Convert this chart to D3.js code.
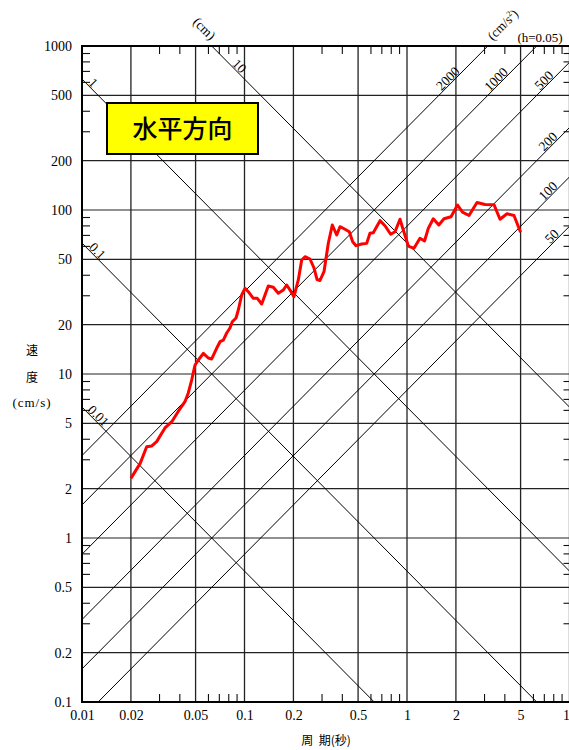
<!DOCTYPE html>
<html>
<head>
<meta charset="utf-8">
<script src="https://cdn.jsdelivr.net/npm/d3@7"></script>
<style>
  html, body { margin: 0; padding: 0; background: #fff; }
  svg { display: block; }
</style>
</head>
<body>
<svg id="chart" width="569" height="750"></svg>
<script>
// ---------------- data ----------------
const periods = [
  0.020, 0.0228, 0.025, 0.0269, 0.0288, 0.0324, 0.0357, 0.039, 0.043, 0.0451,
  0.0473, 0.0496, 0.052, 0.0558, 0.0599, 0.0628, 0.0675, 0.0707, 0.0741, 0.0777,
  0.0814, 0.0841, 0.0887, 0.0916, 0.0961, 0.1007, 0.1055, 0.1133, 0.1199, 0.1276,
  0.1337, 0.1401, 0.1504, 0.1614, 0.1733, 0.1818, 0.1905, 0.2016, 0.2143, 0.2249,
  0.2357, 0.253, 0.2677, 0.2794, 0.2915, 0.3084, 0.3279, 0.347, 0.3693, 0.387,
  0.4155, 0.4415, 0.4632, 0.4855, 0.5263, 0.5649, 0.5918, 0.6202, 0.6822, 0.7321,
  0.7936, 0.8437, 0.9055, 0.9489, 1.019, 1.104, 1.202, 1.282, 1.352, 1.451,
  1.569, 1.689, 1.866, 2.046, 2.195, 2.407, 2.696, 3.02, 3.431, 3.736,
  4.125, 4.554, 5.0
];
const velocities = [
  2.31, 2.85, 3.60, 3.64, 3.87, 4.69, 5.12, 5.89, 6.78, 7.66,
  9.19, 11.35, 12.17, 13.37, 12.52, 12.35, 14.40, 15.74, 16.11, 17.78,
  19.08, 20.84, 21.96, 24.55, 30.32, 33.31, 31.76, 28.94, 28.94, 26.72,
  30.32, 34.40, 33.79, 31.05, 32.53, 34.89, 32.53, 29.60, 37.43, 49.55,
  51.90, 50.26, 44.29, 37.70, 37.16, 42.06, 62.66, 81.0, 70.4, 79.1,
  76.3, 73.7, 64.1, 60.6, 62.0, 62.6, 72.1, 72.7, 86.1, 80.2,
  71.1, 73.7, 87.8, 75.5, 60.3, 58.4, 67.2, 64.7, 77.3, 88.4,
  81.0, 88.4, 91.0, 107.3, 97.0, 92.6, 111.1, 108.0, 107.8, 87.8,
  94.9, 92.6, 73.2
];
const xTickValues = [0.01, 0.02, 0.05, 0.1, 0.2, 0.5, 1, 2, 5, 10];
const xTickLabels = ["0.01", "0.02", "0.05", "0.1", "0.2", "0.5", "1", "2", "5", "10"];
const yTickValues = [0.1, 0.2, 0.5, 1, 2, 5, 10, 20, 50, 100, 200, 500, 1000];
const yTickLabels = ["0.1", "0.2", "0.5", "1", "2", "5", "10", "20", "50", "100", "200", "500", "1000"];
const minorFactors = [3, 4, 6, 7, 8, 9];
const displacementLevels = [0.01, 0.1, 1, 10];          // cm
const displacementLabels = ["0.01", "0.1", "1", "10"];
const displacementLabelPeriods = [0.01194, 0.01177, 0.01112, 0.0881];
const accelerationLevels = [2000, 1000, 500, 200, 100, 50]; // cm/s^2
const accelerationLabels = ["2000", "1000", "500", "200", "100", "50"];
const accelerationLabelPeriods = [1.883, 3.73, 7.35, 7.78, 7.78, 8.22];
const titleText = "水平方向";

// ---------------- layout ----------------
const svg = d3.select("#chart");
const L = 82, R = 569.5, T = 46, B = 702;
const x = d3.scaleLog().domain([0.01, 10]).range([L, R]);
const y = d3.scaleLog().domain([0.1, 1000]).range([B, T]);
const serif = "'Liberation Serif', 'Times New Roman', serif";
const cjk = "'Noto Sans CJK JP', 'Noto Sans CJK SC', sans-serif";
const TWO_PI = 2 * Math.PI;

svg.append("defs").append("clipPath").attr("id", "plotclip")
  .append("rect").attr("x", L).attr("y", T).attr("width", R - L).attr("height", B - T);

const plot = svg.append("g").attr("clip-path", "url(#plotclip)");

// grid
plot.append("g").selectAll("line").data(xTickValues).join("line")
  .attr("x1", d => x(d)).attr("x2", d => x(d)).attr("y1", T).attr("y2", B)
  .attr("stroke", "#222").attr("stroke-width", 1.3);
plot.append("g").selectAll("line").data(yTickValues).join("line")
  .attr("y1", d => y(d)).attr("y2", d => y(d)).attr("x1", L).attr("x2", R)
  .attr("stroke", "#222").attr("stroke-width", 1.2);

// minor ticks
const xMinor = [];
[0.01, 0.1, 1].forEach(dec => minorFactors.forEach(f => xMinor.push(dec * f)));
const yMinor = [];
[0.1, 1, 10, 100].forEach(dec => minorFactors.forEach(f => yMinor.push(dec * f)));
const ticksG = svg.append("g").attr("stroke", "#111").attr("stroke-width", 1.1);
ticksG.selectAll(".bt").data(xMinor).join("line")
  .attr("x1", d => x(d)).attr("x2", d => x(d)).attr("y1", B).attr("y2", B - 8);
ticksG.selectAll(".tt").data(xMinor).join("line").attr("class", "tt")
  .attr("x1", d => x(d)).attr("x2", d => x(d)).attr("y1", T).attr("y2", T + 8);
ticksG.selectAll(".lt").data(yMinor).join("line").attr("class", "lt")
  .attr("y1", d => y(d)).attr("y2", d => y(d)).attr("x1", L).attr("x2", L + 8);
ticksG.selectAll(".rt").data(yMinor).join("line").attr("class", "rt")
  .attr("y1", d => y(d)).attr("y2", d => y(d)).attr("x1", R).attr("x2", R - 6);

// diagonal lines: displacement (V = 2πD/T), acceleration (V = A·T/2π)
const line = d3.line().x(d => x(d[0])).y(d => y(d[1]));
const Tspan = [0.001, 100];
plot.append("g").selectAll("path").data(displacementLevels).join("path")
  .attr("d", D => line(Tspan.map(t => [t, TWO_PI * D / t])))
  .attr("fill", "none").attr("stroke", "#000").attr("stroke-width", 1);
plot.append("g").selectAll("path").data(accelerationLevels).join("path")
  .attr("d", A => line(Tspan.map(t => [t, A * t / TWO_PI])))
  .attr("fill", "none").attr("stroke", "#000").attr("stroke-width", 1);

// frame
svg.append("line").attr("x1", L).attr("x2", L).attr("y1", T).attr("y2", B + 1)
  .attr("stroke", "#000").attr("stroke-width", 2);
svg.append("line").attr("x1", L - 1).attr("x2", R).attr("y1", B).attr("y2", B)
  .attr("stroke", "#000").attr("stroke-width", 2);
svg.append("line").attr("x1", L - 1).attr("x2", R).attr("y1", T).attr("y2", T)
  .attr("stroke", "#000").attr("stroke-width", 2);

// diagonal labels
const dLab = svg.append("g").attr("font-family", serif).attr("font-size", 13.5).attr("fill", "#000");
displacementLevels.forEach((D, i) => {
  const t = displacementLabelPeriods[i];
  const px = x(t), py = y(TWO_PI * D / t);
  dLab.append("text").attr("transform", `translate(${px},${py}) rotate(45)`)
    .attr("text-anchor", "middle").attr("dy", -1).text(displacementLabels[i]);
});
accelerationLevels.forEach((A, i) => {
  const t = accelerationLabelPeriods[i];
  const px = x(t), py = y(A * t / TWO_PI);
  dLab.append("text").attr("transform", `translate(${px},${py}) rotate(-45)`)
    .attr("text-anchor", "middle").attr("dy", -1).text(accelerationLabels[i]);
});
// unit labels
dLab.append("text").attr("transform", "translate(204,29) rotate(45)")
  .attr("text-anchor", "middle").attr("dy", 4).attr("font-size", 13.5).text("(cm)");
const acc = dLab.append("text").attr("transform", "translate(503,25) rotate(-45)")
  .attr("text-anchor", "middle").attr("dy", 4).attr("font-size", 13);
acc.append("tspan").text("(cm/s");
acc.append("tspan").attr("font-size", 8).attr("dy", -5).text("2");
acc.append("tspan").attr("dy", 5).text(")");
dLab.append("text").attr("x", 540).attr("y", 42).attr("text-anchor", "middle")
  .attr("font-size", 13).text("(h=0.05)");

// axes (labels only)
const xAxis = d3.axisBottom(x).tickValues(xTickValues)
  .tickFormat((d, i) => xTickLabels[i]).tickSize(0).tickPadding(8);
const gx = svg.append("g").attr("transform", `translate(0,${B})`).call(xAxis);
gx.select(".domain").remove();
gx.selectAll("text").attr("font-family", serif).attr("font-size", 14).attr("fill", "#000");

const yAxis = d3.axisLeft(y).tickValues(yTickValues)
  .tickFormat((d, i) => yTickLabels[i]).tickSize(0).tickPadding(10);
const gy = svg.append("g").attr("transform", `translate(${L},0)`).call(yAxis);
gy.select(".domain").remove();
gy.selectAll("text").attr("font-family", serif).attr("font-size", 14).attr("fill", "#000");

// axis titles
svg.append("text").attr("x", 32).attr("y", 355).attr("text-anchor", "middle")
  .attr("font-family", cjk).attr("font-size", 12).text("速");
svg.append("text").attr("x", 32).attr("y", 382).attr("text-anchor", "middle")
  .attr("font-family", cjk).attr("font-size", 12).text("度");
svg.append("text").attr("x", 32).attr("y", 407).attr("text-anchor", "middle")
  .attr("font-family", serif).attr("font-size", 13).attr("letter-spacing", 1).text("(cm/s)");
svg.append("text").attr("x", 326).attr("y", 745).attr("text-anchor", "middle")
  .attr("font-family", cjk).attr("font-size", 12).attr("xml:space", "preserve").text("周  期(秒)");

// data curve
const curve = periods.map((p, i) => [p, velocities[i]]);
svg.append("path").attr("d", line(curve))
  .attr("fill", "none").attr("stroke", "#ff0000").attr("stroke-width", 3)
  .attr("stroke-linejoin", "round");

// title box
svg.append("rect").attr("x", 107).attr("y", 103).attr("width", 151).attr("height", 51)
  .attr("fill", "#ffff00").attr("stroke", "#000").attr("stroke-width", 2);
svg.append("text").attr("x", 182.5).attr("y", 138).attr("text-anchor", "middle")
  .attr("font-family", cjk).attr("font-size", 25).attr("font-weight", 500)
  .attr("fill", "#000").text(titleText);
</script>
</body>
</html>
